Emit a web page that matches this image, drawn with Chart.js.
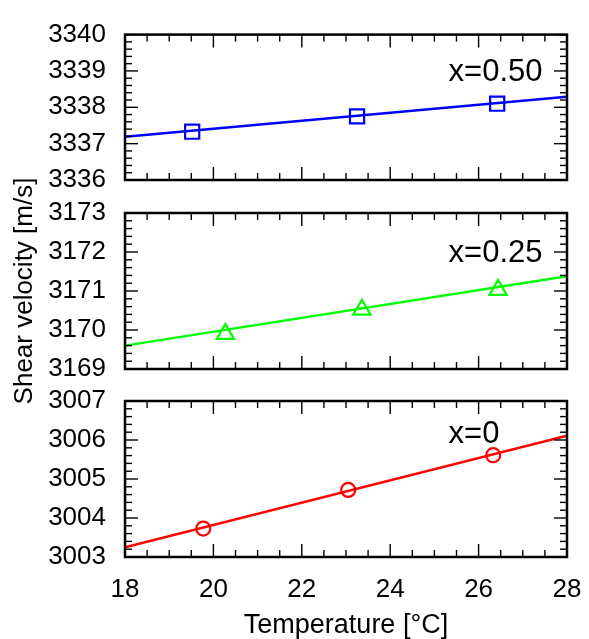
<!DOCTYPE html>
<html>
<head>
<meta charset="utf-8">
<script src="https://cdn.jsdelivr.net/npm/chart.js@4/dist/chart.umd.min.js"></script>
<style>
  html, body { margin: 0; padding: 0; background: #ffffff; overflow: hidden; }
  #wrap { position: relative; width: 589px; height: 639px; }
  canvas { position: absolute; left: 0; top: 0; }
</style>
</head>
<body>
<div id="wrap">
  <canvas id="c1" width="589" height="639"></canvas>
  <canvas id="c2" width="589" height="639"></canvas>
  <canvas id="c3" width="589" height="639"></canvas>
</div>
<script>
// ---- Data ----
const xTicks = [18, 20, 22, 24, 26, 28];

const seriesLabels = ['x=0.50', 'x=0.25', 'x=0'];

const temperature_x050 = [19.52, 23.25, 26.42];
const velocity_x050    = [3337.33, 3337.75, 3338.10];
const temperature_x025 = [20.27, 23.36, 26.44];
const velocity_x025    = [3169.90, 3170.52, 3171.03];
const temperature_x0   = [19.77, 23.05, 26.33];
const velocity_x0      = [3003.73, 3004.72, 3005.61];

const fitTemperature = [18, 28];
const fit_x050 = [3337.19, 3338.29];
const fit_x025 = [3169.60, 3171.38];
const fit_x0   = [3003.25, 3006.11];

const yTicks_x050 = [3336, 3337, 3338, 3339, 3340];
const yTicks_x025 = [3169, 3170, 3171, 3172, 3173];
const yTicks_x0   = [3003, 3004, 3005, 3006, 3007];

// label anchor positions (data units)
const labelAnchorT = 25.32;
const labelAnchorV = [3338.96, 3171.95, 3006.15];

// ---- Rendering ----
const FONT = '"Liberation Sans", Arial, Helvetica, sans-serif';
Chart.defaults.font.family = FONT;
Chart.defaults.color = '#000000';

const pts = (xs, ys) => xs.map((x, i) => ({ x: x, y: ys[i] }));

const framePlugin = {
  id: 'frameTicks',
  afterDatasetsDraw(chart, args, opts) {
    const { ctx, chartArea: a, scales } = chart;
    const xs = scales.x, ys = scales.y;
    ctx.save();
    ctx.strokeStyle = '#000000';
    ctx.lineWidth = 1.4;
    const seg = (x1, y1, x2, y2) => { ctx.beginPath(); ctx.moveTo(x1, y1); ctx.lineTo(x2, y2); ctx.stroke(); };
    // x ticks
    const nx = Math.round((xs.max - xs.min) / opts.xMinor);
    for (let i = 0; i <= nx; i++) {
      const v = xs.min + i * opts.xMinor;
      const r = v / opts.xMajor;
      const major = Math.abs(r - Math.round(r)) < 1e-6;
      const len = major ? 13 : 7;
      const px = xs.getPixelForValue(v);
      seg(px, a.bottom, px, a.bottom - len);
      seg(px, a.top, px, a.top + len);
    }
    // y ticks
    const ny = Math.round((ys.max - ys.min) / opts.yMinor);
    for (let i = 0; i <= ny; i++) {
      const v = ys.min + i * opts.yMinor;
      const r = (v - ys.min) / opts.yMajor;
      const major = Math.abs(r - Math.round(r)) < 1e-6;
      const len = major ? 13 : 7;
      const py = ys.getPixelForValue(v);
      seg(a.left, py, a.left + len, py);
      seg(a.right, py, a.right - len, py);
    }
    ctx.lineWidth = 2.5;
    ctx.strokeRect(a.left, a.top, a.right - a.left, a.bottom - a.top);
    // series label
    ctx.fillStyle = '#000000';
    ctx.font = '31px ' + FONT;
    ctx.textAlign = 'left';
    ctx.textBaseline = 'middle';
    ctx.fillText(opts.label, xs.getPixelForValue(opts.lx), ys.getPixelForValue(opts.ly));
    ctx.restore();
  }
};

function makeChart(id, cfg) {
  const isBottom = cfg.bottom;
  return new Chart(document.getElementById(id), {
    type: 'scatter',
    data: {
      datasets: [
        {
          data: pts(fitTemperature, cfg.fit),
          showLine: true,
          borderColor: cfg.color,
          borderWidth: 2.4,
          pointRadius: 0,
          fill: false
        },
        {
          data: pts(cfg.tx, cfg.vy),
          showLine: false,
          pointStyle: cfg.marker,
          pointRadius: cfg.radius,
          pointBorderWidth: 2.2,
          pointBorderColor: cfg.color,
          pointBackgroundColor: 'rgba(0,0,0,0)',
          borderColor: cfg.color,
          backgroundColor: 'rgba(0,0,0,0)'
        }
      ]
    },
    options: {
      responsive: false,
      animation: false,
      devicePixelRatio: 1,
      layout: { padding: { left: 0, right: 22, top: cfg.padTop, bottom: cfg.padBottom } },
      plugins: {
        legend: { display: false },
        tooltip: { enabled: false },
        frameTicks: { xMinor: 0.5, xMajor: 2, yMinor: 0.2, yMajor: 1, label: cfg.label, lx: labelAnchorT, ly: cfg.ly }
      },
      scales: {
        x: {
          type: 'linear',
          position: 'bottom',
          display: isBottom,
          min: xTicks[0],
          max: xTicks[xTicks.length - 1],
          afterBuildTicks: (s) => { s.ticks = xTicks.map(v => ({ value: v })); },
          afterFit: (s) => { if (isBottom) s.height = 82; },
          grid: { display: false, drawTicks: false },
          border: { display: false },
          ticks: { font: { size: 26, lineHeight: 2.38 }, color: '#000', padding: 2, maxRotation: 0, callback: (v) => String(v) },
          title: {
            display: isBottom,
            text: 'Temperature [°C]',
            font: { size: 27, lineHeight: 1 },
            color: '#000',
            padding: { top: 0, bottom: 0 }
          }
        },
        y: {
          type: 'linear',
          position: 'left',
          min: cfg.yt[0],
          max: cfg.yt[cfg.yt.length - 1],
          afterBuildTicks: (s) => { s.ticks = cfg.yt.map(v => ({ value: v })); },
          afterFit: (s) => { s.width = 125; },
          grid: { display: false, drawTicks: false },
          border: { display: false },
          ticks: { font: { size: 26 }, color: '#000', padding: 19, callback: (v) => String(v) },
          title: {
            display: !!cfg.ytitle,
            text: 'Shear velocity [m/s]',
            font: { size: 26, lineHeight: 1 },
            color: '#000',
            padding: { top: 12, bottom: 0 }
          }
        }
      }
    },
    plugins: [framePlugin]
  });
}

makeChart('c1', {
  fit: fit_x050, tx: temperature_x050, vy: velocity_x050, yt: yTicks_x050,
  color: '#0000ff', marker: 'rect', radius: 10, label: seriesLabels[0], ly: labelAnchorV[0],
  padTop: 23, padBottom: 459, bottom: false, ytitle: false
});
makeChart('c2', {
  fit: fit_x025, tx: temperature_x025, vy: velocity_x025, yt: yTicks_x025,
  color: '#00ff00', marker: 'triangle', radius: 10, label: seriesLabels[1], ly: labelAnchorV[1],
  padTop: 213, padBottom: 270, bottom: false, ytitle: true
});
makeChart('c3', {
  fit: fit_x0, tx: temperature_x0, vy: velocity_x0, yt: yTicks_x0,
  color: '#ff0000', marker: 'circle', radius: 7, label: seriesLabels[2], ly: labelAnchorV[2],
  padTop: 401, padBottom: 0, bottom: true, ytitle: false
});
</script>
</body>
</html>
